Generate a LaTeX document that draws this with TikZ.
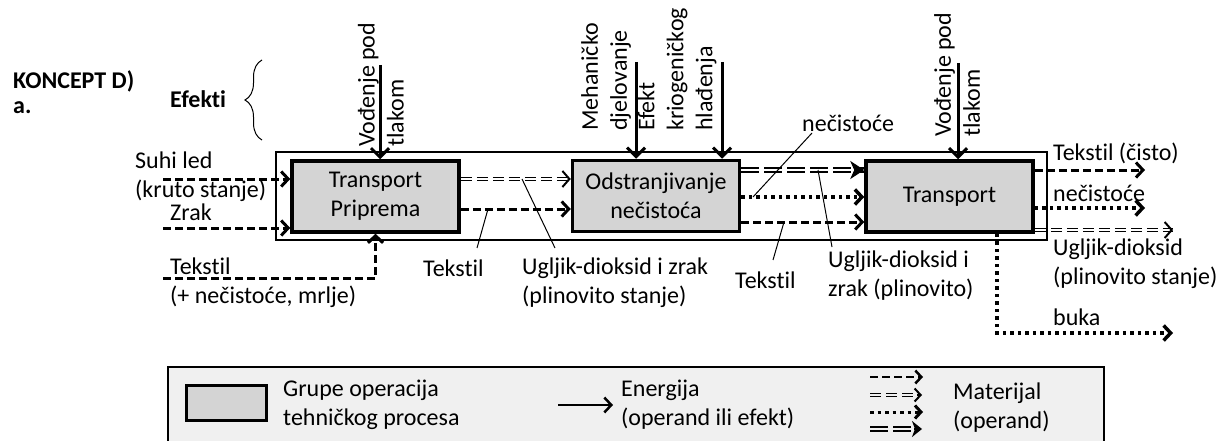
\documentclass[tikz,border=0pt]{standalone}
\usepackage{fontspec}
\setmainfont{Carlito}[RawFeature={-liga,-clig,-calt}]
\usetikzlibrary{arrows.meta,decorations.pathreplacing}

\tikzset{
  lbl/.style={font=\fontsize{24}{29}\selectfont, inner sep=0pt, align=left, anchor=west},
  boldlbl/.style={lbl, font=\fontsize{24}{25}\selectfont\bfseries},
  opbox/.style={draw, line width=3.5pt, fill=black!17, minimum width=167pt, minimum height=71pt,
    inner sep=0pt, align=center, font=\fontsize{24}{29}\selectfont},
  energy/.style={line width=3pt, -{Straight Barb[length=9pt,width=18pt]}},
  mat/.style={line width=3pt, dash pattern=on 8pt off 4pt, -{Straight Barb[length=7pt,width=15pt]}},
  matdot/.style={line width=3.5pt, dash pattern=on 3.5pt off 4pt, -{Straight Barb[length=7pt,width=15pt]}},
  matgas/.style={line width=1.2pt, double, double distance=2.4pt, dash pattern=on 11pt off 5pt},
  matgasbold/.style={line width=1.8pt, double, double distance=2.8pt, dash pattern=on 18pt off 5pt},
  gastip/.style={line width=2pt, -{Straight Barb[length=7pt,width=16pt]}},
  gasboldtip/.style={line width=2pt, -{Stealth[length=14pt,width=18pt,inset=4pt]}},
  leader/.style={line width=1pt}
}

\begin{document}
\begin{tikzpicture}[x=1pt,y=-1pt]
\useasboundingbox (0,0) rectangle (1218,441);

% title and effects
\node[boldlbl] (title) at (13,92) {KONCEPT D)\\a.};
\node[boldlbl] (efekti) at (170,99) {Efekti};
\draw[line width=1pt, decorate, decoration={brace, amplitude=17pt}] (262,140) -- (262,60);

% system boundary
\draw[line width=2pt] (276,152) rectangle (1047,240);

% operation groups
\node[opbox] (b1) at (375.5,196.5) {Transport\\Priprema};
\node[opbox] (b2) at (656,196) {Odstranjivanje\\nečistoća};
\node[opbox] (b3) at (949.5,196.5) {Transport};

% effects (energy)
\node[lbl, rotate=90] (v1) at (381,147) {Vođenje pod\\tlakom};
\node[lbl, rotate=90] (m1) at (606,131) {Mehaničko\\djelovanje};
\node[lbl, rotate=90] (m2) at (677,131) {Efekt\\kriogeničkog\\hlađenja};
\node[lbl, rotate=90] (v3) at (957,137) {Vođenje pod\\tlakom};
\coordinate (e1) at (380,65);
\coordinate (e2) at (636,62);
\coordinate (e3) at (722,62);
\coordinate (e4) at (958,63);
\draw[energy] (e1) -- (e1 |- b1.north);
\draw[energy] (e2) -- (e2 |- b2.north);
\draw[energy] (e3) -- (e3 |- b2.north);
\draw[energy] (e4) -- (e4 |- b3.north);

% inputs
\node[lbl] (suhi) at (135,177) {Suhi led\\(kruto stanje)};
\node[lbl] (zrak) at (170,212) {Zrak};
\node[lbl] (tin) at (170,283) {Tekstil\\(+ nečistoće, mrlje)};
\coordinate (i1) at (163,179);
\coordinate (i2) at (163,228);
\coordinate (i3) at (163,278);
\draw[mat] (i1) -- (b1.west |- i1);
\draw[mat] (i2) -- (b1.west |- i2);
\draw[mat] (i3) -| (b1.south);

% between groups
\coordinate (g1) at (b1.east |- 0,179);
\coordinate (g2) at (b2.west |- 0,179);
\draw[matgas] (g1) -- (g2);
\draw[gastip] ([xshift=-3pt]g2) -- (g2);
\draw[mat] (b1.east |- 0,209) -- (b2.west |- 0,209);

\coordinate (g3) at (b2.east |- 0,170);
\coordinate (g4) at (b3.west |- 0,170);
\draw[matgasbold] (g3) -- (g4);
\draw[gasboldtip] ([xshift=-3pt]g4) -- (g4);
\draw[matdot] (b2.east |- 0,197) -- (b3.west |- 0,197);
\draw[mat] (b2.east |- 0,222) -- (b3.west |- 0,222);

% outputs
\node[lbl] (tout) at (1053,153) {Tekstil (čisto)};
\node[lbl] (nout) at (1053,193) {nečistoće};
\node[lbl] (uout) at (1053,264) {Ugljik-dioksid\\(plinovito stanje)};
\node[lbl] (buka) at (1053,317) {buka};
\coordinate (o1) at (1145,170);
\coordinate (o2) at (1145,208);
\coordinate (o3) at (1173,230);
\coordinate (o4) at (1173,333);
\draw[mat] (b3.east |- o1) -- (o1);
\draw[matdot] (b3.east |- o2) -- (o2);
\draw[matgas] (b3.east |- o3) -- (o3);
\draw[gastip] ([xshift=-3pt]o3) -- (o3);
\draw[matdot] (b3.south -| 997,0) |- (o4);

% flow labels with leaders
\node[lbl] (t1) at (423,268) {Tekstil};
\node[lbl] (u1) at (522,283) {Ugljik-dioksid i zrak\\(plinovito stanje)};
\node[lbl] (t2) at (735,280) {Tekstil};
\node[lbl] (u2) at (828,276) {Ugljik-dioksid i\\zrak (plinovito)};
\node[lbl] (n1) at (802,123) {nečistoće};
\coordinate (t1x) at (488,209);
\coordinate (u1x) at (522,179);
\coordinate (t2x) at (784,222);
\coordinate (u2x) at (818,170);
\coordinate (n1x) at (753,197);
\draw[leader] (477,248) -- (t1x);
\draw[leader] (555,248) -- (u1x);
\draw[leader] (773,260) -- (t2x);
\draw[leader] (832,247) -- (u2x);
\draw[leader] (812,133) -- (n1x);

% legend
\draw[line width=2pt, fill=black!6] (168,367) rectangle (1104,480);
\node[draw, line width=3pt, fill=black!17, minimum width=80pt, minimum height=35pt] (lbox) at (226.5,403) {};
\node[lbl] (lboxt) at (283,405) {Grupe operacija\\tehničkog procesa};
\coordinate (l1) at (558,405);
\coordinate (l2) at (613,405);
\draw[energy, line width=2.5pt, -{Straight Barb[length=7pt,width=15pt]}] (l1) -- (l2);
\node[lbl] (lent) at (621,405) {Energija\\(operand ili efekt)};
\coordinate (la) at (870,377);
\coordinate (lb) at (870,395);
\coordinate (lc) at (870,412);
\coordinate (ld) at (870,429);
\draw[mat, line width=2.5pt, -{Straight Barb[length=6pt,width=13pt]}] (la) -- ++(53,0);
\draw[matgas, double=black!6] (lb) -- ++(50,0) coordinate (lbe);
\draw[gastip, -{Straight Barb[length=6pt,width=13pt]}] ([xshift=-3pt]lbe) -- ++(5,0);
\draw[matdot, line width=3pt, -{Straight Barb[length=6pt,width=13pt]}] (lc) -- ++(53,0);
\draw[matgasbold, double=black!6] (ld) -- ++(47,0) coordinate (lde);
\draw[gasboldtip, -{Stealth[length=10pt,width=16pt,inset=3pt]}] ([xshift=-3pt]lde) -- ++(8,0);
\node[lbl] (lmat) at (953,408) {Materijal\\(operand)};
\end{tikzpicture}
\end{document}
